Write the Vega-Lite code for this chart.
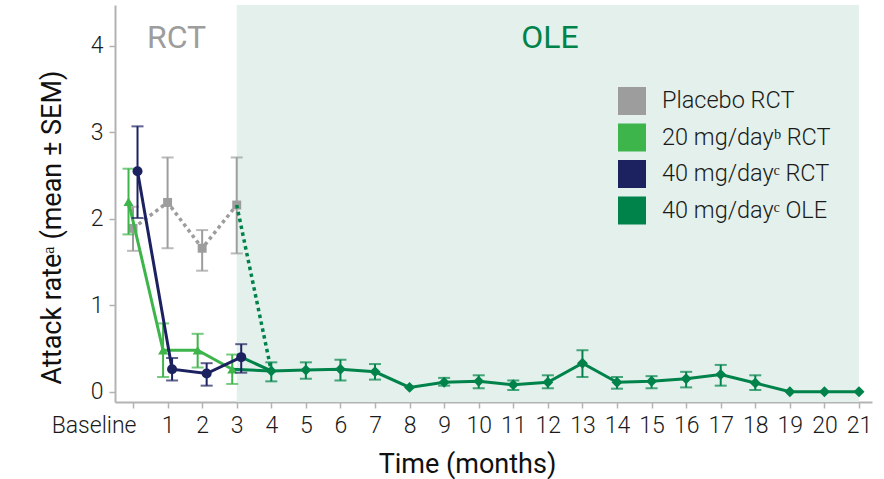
{
  "$schema": "https://vega.github.io/schema/vega-lite/v6.json",
  "width": 757,
  "height": 397,
  "autosize": "none",
  "padding": {"left": 115, "top": 5, "right": 12, "bottom": 77},
  "background": "white",
  "config": {
    "view": {"stroke": null},
    "font": "Roboto",
    "axis": {"grid": false}
  },
  "datasets": {
    "pts": [
      {"grp": "pbo", "month": 0, "mean": 1.89, "lo": 1.63, "hi": 2.14},
      {"grp": "pbo", "month": 1, "mean": 2.19, "lo": 1.66, "hi": 2.71},
      {"grp": "pbo", "month": 2, "mean": 1.66, "lo": 1.40, "hi": 1.87},
      {"grp": "pbo", "month": 3, "mean": 2.16, "lo": 1.60, "hi": 2.71},
      {"grp": "20", "month": 0, "mean": 2.20, "lo": 1.82, "hi": 2.58},
      {"grp": "20", "month": 1, "mean": 0.48, "lo": 0.17, "hi": 0.79},
      {"grp": "20", "month": 2, "mean": 0.48, "lo": 0.28, "hi": 0.67},
      {"grp": "20", "month": 3, "mean": 0.26, "lo": 0.09, "hi": 0.43},
      {"grp": "40", "month": 0, "mean": 2.55, "lo": 2.01, "hi": 3.07},
      {"grp": "40", "month": 1, "mean": 0.26, "lo": 0.13, "hi": 0.39},
      {"grp": "40", "month": 2, "mean": 0.21, "lo": 0.07, "hi": 0.33},
      {"grp": "40", "month": 3, "mean": 0.40, "lo": 0.22, "hi": 0.55},
      {"grp": "ole", "month": 4, "mean": 0.24, "lo": 0.12, "hi": 0.34},
      {"grp": "ole", "month": 5, "mean": 0.25, "lo": 0.15, "hi": 0.34},
      {"grp": "ole", "month": 6, "mean": 0.26, "lo": 0.13, "hi": 0.37},
      {"grp": "ole", "month": 7, "mean": 0.23, "lo": 0.14, "hi": 0.32},
      {"grp": "ole", "month": 8, "mean": 0.05, "lo": 0.05, "hi": 0.05},
      {"grp": "ole", "month": 9, "mean": 0.11, "lo": 0.07, "hi": 0.16},
      {"grp": "ole", "month": 10, "mean": 0.12, "lo": 0.04, "hi": 0.19},
      {"grp": "ole", "month": 11, "mean": 0.08, "lo": 0.02, "hi": 0.13},
      {"grp": "ole", "month": 12, "mean": 0.11, "lo": 0.04, "hi": 0.19},
      {"grp": "ole", "month": 13, "mean": 0.33, "lo": 0.17, "hi": 0.48},
      {"grp": "ole", "month": 14, "mean": 0.11, "lo": 0.035, "hi": 0.17},
      {"grp": "ole", "month": 15, "mean": 0.12, "lo": 0.04, "hi": 0.18},
      {"grp": "ole", "month": 16, "mean": 0.15, "lo": 0.05, "hi": 0.23},
      {"grp": "ole", "month": 17, "mean": 0.20, "lo": 0.07, "hi": 0.31},
      {"grp": "ole", "month": 18, "mean": 0.10, "lo": 0.02, "hi": 0.19},
      {"grp": "ole", "month": 19, "mean": 0.0, "lo": 0.0, "hi": 0.0},
      {"grp": "ole", "month": 20, "mean": 0.0, "lo": 0.0, "hi": 0.0},
      {"grp": "ole", "month": 21, "mean": 0.0, "lo": 0.0, "hi": 0.0}
    ],
    "conn": [
      {"from": "pbo", "m0": 3, "m1": 4, "y0": 2.16, "y1": 0.24},
      {"from": "20", "m0": 3, "m1": 4, "y0": 0.26, "y1": 0.24},
      {"from": "40", "m0": 3, "m1": 4, "y0": 0.40, "y1": 0.24}
    ],
    "shade": [{"start": 3, "end": 21}],
    "phase": [
      {"label": "RCT", "mx": 1.26, "my": 4.09},
      {"label": "OLE", "mx": 12.06, "my": 4.09}
    ],
    "legend": [
      {"series": "Placebo RCT"},
      {"series": "20 mg/dayᵇ RCT"},
      {"series": "40 mg/dayᶜ RCT"},
      {"series": "40 mg/dayᶜ OLE"}
    ]
  },
  "encoding": {
    "x": {
      "field": "month", "type": "quantitative",
      "scale": {"domain": [-0.521, 21.376], "nice": false, "zero": false},
      "axis": {
        "title": "Time (months)",
        "values": [0,1,2,3,4,5,6,7,8,9,10,11,12,13,14,15,16,17,18,19,20,21],
        "labelExpr": "datum.value == 0 ? 'Baseline' : datum.label",
        "labelAlign": {"condition": {"test": "datum.value == 0", "value": "right"}, "value": "center"},
        "labelOffset": {"condition": {"test": "datum.value == 0", "value": 3}, "value": 0},
        "labelFont": "Roboto", "labelFontSize": 23, "labelFontWeight": 300, "labelColor": "#1a1a1a",
        "labelPadding": 6, "labelOverlap": false, "labelFlush": false,
        "domainColor": "#b3b3b3", "domainWidth": 2,
        "tickColor": "#b3b3b3", "tickWidth": 1.5, "tickSize": 6,
        "titleFont": "Roboto", "titleFontSize": 27, "titleFontWeight": "normal", "titleColor": "#111",
        "titleX": 352, "titleY": 70, "titleBaseline": "alphabetic", "titleAlign": "center", "titleAnchor": null
      }
    },
    "y": {
      "field": "mean", "type": "quantitative",
      "scale": {"domain": [-0.119, 4.474], "nice": false, "zero": false},
      "axis": {
        "title": "Attack rateᵃ (mean ± SEM)",
        "values": [0, 1, 2, 3, 4],
        "labelFont": "Roboto", "labelFontSize": 23, "labelFontWeight": 300, "labelColor": "#1a1a1a",
        "labelPadding": 6,
        "domainColor": "#b3b3b3", "domainWidth": 2,
        "tickColor": "#b3b3b3", "tickWidth": 1.5, "tickSize": 6,
        "titleFont": "Roboto", "titleFontSize": 27, "titleFontWeight": "normal", "titleColor": "#111",
        "titleX": -55, "titleY": 222, "titleBaseline": "alphabetic", "titleAlign": "center", "titleAngle": 270
      }
    }
  },
  "layer": [
    {
      "data": {"name": "shade"},
      "mark": {"type": "rect", "color": "#e3f0eb"},
      "encoding": {
        "x": {"field": "start", "type": "quantitative"},
        "x2": {"field": "end"},
        "y": null
      }
    },
    {
      "data": {"name": "phase"},
      "mark": {"type": "text", "fontSize": 32, "font": "Roboto", "baseline": "middle", "align": "center"},
      "encoding": {
        "x": {"field": "mx", "type": "quantitative"},
        "y": {"field": "my", "type": "quantitative"},
        "text": {"field": "label"},
        "color": {"condition": {"test": "datum.label == 'RCT'", "value": "#9d9d9d"}, "value": "#00834a"}
      }
    },
    {
      "data": {"name": "pts"},
      "transform": [{"filter": "datum.grp == 'pbo' && datum.hi > datum.lo"}],
      "mark": {"type": "rule", "color": "#9d9d9d", "strokeWidth": 2},
      "encoding": {"y": {"field": "lo", "type": "quantitative"}, "y2": {"field": "hi"}}
    },
    {
      "data": {"name": "pts"},
      "transform": [{"filter": "datum.grp == 'pbo' && datum.hi > datum.lo"}],
      "mark": {"type": "tick", "orient": "horizontal", "color": "#9d9d9d", "size": 12, "thickness": 2},
      "encoding": {"y": {"field": "lo", "type": "quantitative"}}
    },
    {
      "data": {"name": "pts"},
      "transform": [{"filter": "datum.grp == 'pbo' && datum.hi > datum.lo"}],
      "mark": {"type": "tick", "orient": "horizontal", "color": "#9d9d9d", "size": 12, "thickness": 2},
      "encoding": {"y": {"field": "hi", "type": "quantitative"}}
    },
    {
      "data": {"name": "pts"},
      "transform": [{"filter": "datum.grp == 'pbo'"}],
      "mark": {"type": "line", "color": "#9d9d9d", "strokeWidth": 3.5, "strokeDash": [3.5, 3.5]},
      "encoding": {}
    },
    {
      "data": {"name": "pts"},
      "transform": [{"filter": "datum.grp == 'pbo'"}],
      "mark": {"type": "point", "shape": "square", "filled": true, "opacity": 1, "color": "#9d9d9d", "size": 80},
      "encoding": {}
    },
    {
      "data": {"name": "conn"},
      "transform": [{"filter": "datum.from == 'pbo'"}],
      "mark": {"type": "rule", "color": "#00834a", "strokeWidth": 3.5, "strokeDash": [3.5, 3.5]},
      "encoding": {
        "x": {"field": "m0", "type": "quantitative"}, "x2": {"field": "m1"},
        "y": {"field": "y0", "type": "quantitative"}, "y2": {"field": "y1"}
      }
    },
    {
      "data": {"name": "conn"},
      "transform": [{"filter": "datum.from == '20'"}],
      "mark": {"type": "rule", "color": "#00834a", "strokeWidth": 3, "xOffset": -4.5, "x2Offset": 0},
      "encoding": {
        "x": {"field": "m0", "type": "quantitative"}, "x2": {"field": "m1"},
        "y": {"field": "y0", "type": "quantitative"}, "y2": {"field": "y1"}
      }
    },
    {
      "data": {"name": "conn"},
      "transform": [{"filter": "datum.from == '40'"}],
      "mark": {"type": "rule", "color": "#00834a", "strokeWidth": 3, "xOffset": 4.5, "x2Offset": 0},
      "encoding": {
        "x": {"field": "m0", "type": "quantitative"}, "x2": {"field": "m1"},
        "y": {"field": "y0", "type": "quantitative"}, "y2": {"field": "y1"}
      }
    },
    {
      "data": {"name": "pts"},
      "transform": [{"filter": "datum.grp == '20' && datum.hi > datum.lo"}],
      "mark": {"type": "rule", "color": "#3db54a", "strokeWidth": 2, "xOffset": -4.5},
      "encoding": {"y": {"field": "lo", "type": "quantitative"}, "y2": {"field": "hi"}}
    },
    {
      "data": {"name": "pts"},
      "transform": [{"filter": "datum.grp == '20' && datum.hi > datum.lo"}],
      "mark": {"type": "tick", "orient": "horizontal", "color": "#3db54a", "size": 12, "thickness": 2, "xOffset": -4.5},
      "encoding": {"y": {"field": "lo", "type": "quantitative"}}
    },
    {
      "data": {"name": "pts"},
      "transform": [{"filter": "datum.grp == '20' && datum.hi > datum.lo"}],
      "mark": {"type": "tick", "orient": "horizontal", "color": "#3db54a", "size": 12, "thickness": 2, "xOffset": -4.5},
      "encoding": {"y": {"field": "hi", "type": "quantitative"}}
    },
    {
      "data": {"name": "pts"},
      "transform": [{"filter": "datum.grp == '20'"}],
      "mark": {"type": "line", "color": "#3db54a", "strokeWidth": 3, "xOffset": -4.5},
      "encoding": {}
    },
    {
      "data": {"name": "pts"},
      "transform": [{"filter": "datum.grp == '20'"}],
      "mark": {"type": "point", "shape": "triangle-up", "filled": true, "opacity": 1, "color": "#3db54a", "size": 100, "xOffset": -4.5},
      "encoding": {}
    },
    {
      "data": {"name": "pts"},
      "transform": [{"filter": "datum.grp == '40' && datum.hi > datum.lo"}],
      "mark": {"type": "rule", "color": "#1c2160", "strokeWidth": 2, "xOffset": 4.5},
      "encoding": {"y": {"field": "lo", "type": "quantitative"}, "y2": {"field": "hi"}}
    },
    {
      "data": {"name": "pts"},
      "transform": [{"filter": "datum.grp == '40' && datum.hi > datum.lo"}],
      "mark": {"type": "tick", "orient": "horizontal", "color": "#1c2160", "size": 12, "thickness": 2, "xOffset": 4.5},
      "encoding": {"y": {"field": "lo", "type": "quantitative"}}
    },
    {
      "data": {"name": "pts"},
      "transform": [{"filter": "datum.grp == '40' && datum.hi > datum.lo"}],
      "mark": {"type": "tick", "orient": "horizontal", "color": "#1c2160", "size": 12, "thickness": 2, "xOffset": 4.5},
      "encoding": {"y": {"field": "hi", "type": "quantitative"}}
    },
    {
      "data": {"name": "pts"},
      "transform": [{"filter": "datum.grp == '40'"}],
      "mark": {"type": "line", "color": "#1c2160", "strokeWidth": 3, "xOffset": 4.5},
      "encoding": {}
    },
    {
      "data": {"name": "pts"},
      "transform": [{"filter": "datum.grp == '40'"}],
      "mark": {"type": "point", "shape": "circle", "filled": true, "opacity": 1, "color": "#1c2160", "size": 100, "xOffset": 4.5},
      "encoding": {}
    },
    {
      "data": {"name": "pts"},
      "transform": [{"filter": "datum.grp == 'ole' && datum.hi > datum.lo"}],
      "mark": {"type": "rule", "color": "#00834a", "strokeWidth": 2},
      "encoding": {"y": {"field": "lo", "type": "quantitative"}, "y2": {"field": "hi"}}
    },
    {
      "data": {"name": "pts"},
      "transform": [{"filter": "datum.grp == 'ole' && datum.hi > datum.lo"}],
      "mark": {"type": "tick", "orient": "horizontal", "color": "#00834a", "size": 12, "thickness": 2},
      "encoding": {"y": {"field": "lo", "type": "quantitative"}}
    },
    {
      "data": {"name": "pts"},
      "transform": [{"filter": "datum.grp == 'ole' && datum.hi > datum.lo"}],
      "mark": {"type": "tick", "orient": "horizontal", "color": "#00834a", "size": 12, "thickness": 2},
      "encoding": {"y": {"field": "hi", "type": "quantitative"}}
    },
    {
      "data": {"name": "pts"},
      "transform": [{"filter": "datum.grp == 'ole'"}],
      "mark": {"type": "line", "color": "#00834a", "strokeWidth": 3},
      "encoding": {}
    },
    {
      "data": {"name": "pts"},
      "transform": [{"filter": "datum.grp == 'ole'"}],
      "mark": {"type": "point", "shape": "diamond", "filled": true, "opacity": 1, "color": "#00834a", "size": 120},
      "encoding": {}
    },
    {
      "data": {"name": "legend"},
      "mark": {"type": "square", "opacity": 0},
      "encoding": {
        "x": null,
        "y": null,
        "color": {
          "field": "series", "type": "nominal",
          "scale": {
            "domain": ["Placebo RCT", "20 mg/dayᵇ RCT", "40 mg/dayᶜ RCT", "40 mg/dayᶜ OLE"],
            "range": ["#9d9d9d", "#3db54a", "#1c2160", "#00834a"]
          },
          "legend": {
            "orient": "none", "legendX": 503, "legendY": 82,
            "title": null, "padding": 0,
            "symbolType": "square", "symbolSize": 784, "symbolStrokeWidth": 0, "symbolOpacity": 1,
            "labelFont": "Roboto", "labelFontSize": 23.5, "labelFontWeight": 300, "labelColor": "#1a1a1a",
            "labelOffset": 16, "rowPadding": 8.5, "labelLimit": 0,
            "encode": {"symbols": {"update": {"shape": {"value": "square"}, "opacity": {"value": 1}, "fillOpacity": {"value": 1}, "strokeWidth": {"value": 0}}}}
          }
        }
      }
    }
  ]
}
